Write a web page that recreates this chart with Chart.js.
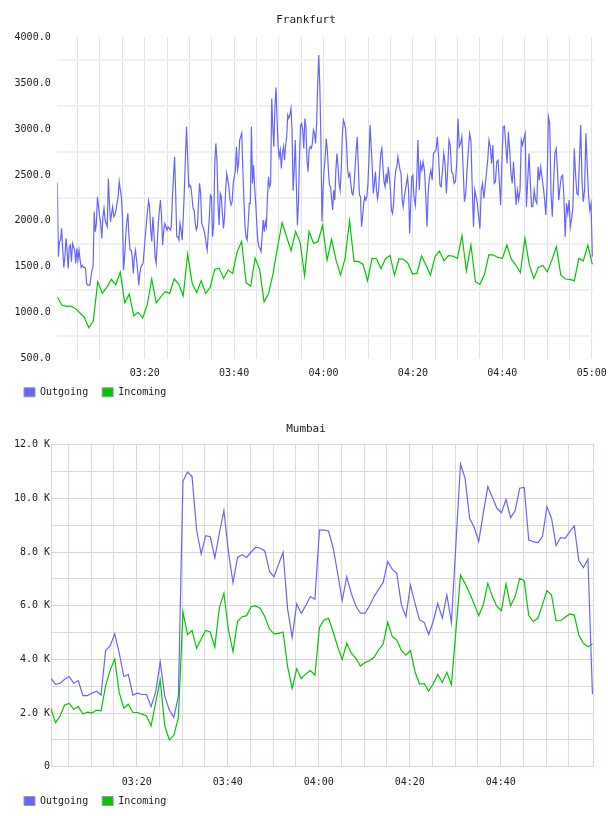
<!DOCTYPE html>
<html><head><meta charset="utf-8">
<script src="https://cdn.jsdelivr.net/npm/chart.js@4/dist/chart.umd.min.js"></script>
<style>
html,body{margin:0;padding:0;background:#fff;}
#w1{position:absolute;left:0;top:0;width:608px;height:410px;}
#w2{position:absolute;left:0;top:410px;width:608px;height:406px;}
canvas{display:block;}
</style></head><body>
<div id="w1"><canvas id="c1" width="608" height="410" style="width:608px;height:410px"></canvas></div>
<div id="w2"><canvas id="c2" width="608" height="406" style="width:608px;height:406px"></canvas></div>
<script>
// ---------- shared ----------
const seriesNames = ['Outgoing', 'Incoming'];
const seriesColors = ['#6666ff', '#00c800'];

// ---------- Frankfurt ----------
const frankfurtTitle = 'Frankfurt';
const frankfurtRange = ['03:00:27', '05:00:21'];
const frankfurtTimeTicks = ['03:05','03:10','03:15','03:20','03:25','03:30','03:35','03:40','03:45','03:50','03:55','04:00',
  '04:05','04:10','04:15','04:20','04:25','04:30','04:35','04:40','04:45','04:50','04:55','05:00'];
const frankfurtTimeLabels = ['03:20','03:40','04:00','04:20','04:40','05:00'];
const frankfurtValueTicks = [500,750,1000,1250,1500,1750,2000,2250,2500,2750,3000,3250,3500,3750,4000];
const frankfurtValueLabels = [500,1000,1500,2000,2500,3000,3500,4000];

// Outgoing, sampled densely, in three consecutive stretches of time
const frankfurtOutgoingSpans = [['03:00:27','03:40:03'], ['03:40:17','04:20:28'], ['04:20:33','05:00:08']];
const frankfurtOutgoingA = [2415,1610,1773,1791,1918,1682,1494,1610,1809,1682,1483,1719,1737,1555,1755,1719,1682,1537,1700,1573,
  1682,1573,1494,1515,1494,1494,1483,1320,1301,1301,1301,1392,1465,1508,2099,1882,1972,2263,2154,2045,1972,1809,2045,2136,2009,
  1972,1936,2462,2190,1991,2081,2154,2045,2063,2118,2190,2263,2426,2335,2263,2045,1465,1610,1827,1991,2081,1827,1682,1682,1610,
  1428,1610,1682,1573,1465,1301,1428,1501,1519,1537,1682,1827,1972,2099,2219,2154,1900,1776,2045,1864,1610,1537,1755,1972,2118,
  2226,2045,1737,1900,1972,1936,1900,1936,1918,1900,1936,2263,2480,2698,2299,1827,1827,1791,1972,1900,1791,2045,2335,2698,3024,
  2698,2371,2389,2371,2263,2136,2118,1972,1900,1936,2190,2408,2299,1972,1936,1900,1846,1755,1682,1864,2045,2281,2263,1827,1972,
  2625,2843,2661,2190,1954,2299,2263,2081,1918,2045,2335,2516,2444,2371,2226,2172,2208,2408,2480];
const frankfurtOutgoingB = [2553,2807,2553,2625,2879,2915,2952,2553,2226,1936,1827,1791,1972,2190,2190,3024,2408,2607,2371,2190,
  1972,1791,1719,1700,1664,1827,2009,1882,1991,1936,2263,2480,2371,2408,3332,3024,2807,3242,3452,3097,2807,2698,2770,2571,2734,
  2807,2661,2825,2915,3151,3115,3151,3224,2988,2328,2553,2879,2408,1954,2190,2698,3042,3060,2988,2788,3115,3024,2661,2535,2770,
  2807,2788,2843,2988,2952,2843,3060,3496,3804,3459,2879,1991,2335,2553,2698,2897,2770,2553,2389,2371,2244,2118,2335,2226,2553,
  2734,2589,2408,2335,2553,2915,3097,3060,3006,2843,2553,2480,2516,2408,2299,2281,2389,2589,2770,2915,2589,2281,2263,1936,2045,
  2190,2263,2226,2263,2408,2698,3042,2807,2589,2299,2408,2535,2335,2244,2335,2553,2734,2788,2589,2426,2371,2516,2408,2589,2480,
  2335,2118,2081,2190,2426,2553,2589,2698,2625,2553,2516,2226,2154,2263,2335,2408,2480,2335,1864,2190,2480,2498,2263,2190];
const frankfurtOutgoingC = [2172,2444,2879,2335,2625,2553,2643,2553,2299,1936,2335,2480,2553,2444,2734,2752,2770,2915,2698,2389,
  2371,2553,2734,2625,2299,2553,2879,2825,2535,2516,2408,2426,2625,3115,2807,2843,2915,2553,2208,2299,2553,2770,2952,2879,2371,
  1936,2335,2263,2190,2045,1918,2335,2408,2244,2371,2516,2661,2879,2807,2625,2825,2408,2426,2643,2661,2426,2172,2661,3024,3031,
  2825,2625,2970,2770,2516,2408,2643,2408,2172,2335,2226,2335,2879,2825,2897,2952,2154,2444,2734,2408,2154,2154,2335,2226,2190,
  2589,2444,2589,2480,2371,2244,2063,2408,3133,3060,2299,2045,2408,2734,2788,2553,2226,2371,2480,2498,2263,1827,2190,2081,2226,
  1936,2027,2154,2788,2516,2299,2281,2643,3042,2444,2208,2335,2952,2625,2299,2118,2190,1610];

// Incoming, one value per minute
const frankfurtIncomingSpan = ['03:00:27', '05:00:08'];
const frankfurtIncoming = [1174,1084,1069,1073,1047,1000,950,837,906,1338,1211,1276,1363,1305,1443,1109,1203,968,1004,942,
  1087,1367,1109,1174,1229,1211,1370,1312,1182,1639,1320,1218,1349,1211,1276,1472,1486,1374,1465,1428,
  1664,1776,1327,1290,1595,1472,1116,1211,1428,1718,1980,1827,1675,1885,1769,1403,1885,1755,1776,1951,
  1573,1798,1573,1410,1592,2001,1559,1559,1526,1349,1592,1588,1479,1588,1624,1410,1588,1581,1537,1421,
  1428,1617,1519,1410,1610,1671,1566,1621,1617,1592,1838,1457,1737,1338,1309,1417,1632,1628,1602,1592,
  1737,1581,1519,1436,1809,1519,1374,1494,1515,1446,1573,1718,1410,1367,1363,1349,1592,1566,1737,1526];

// ---------- Mumbai (values in thousands) ----------
const mumbaiTitle = 'Mumbai';
const mumbaiRange = ['03:01:10', '05:00:21'];
const mumbaiTimeTicks = ['03:05','03:10','03:15','03:20','03:25','03:30','03:35','03:40','03:45','03:50','03:55','04:00',
  '04:05','04:10','04:15','04:20','04:25','04:30','04:35','04:40','04:45','04:50','04:55'];
const mumbaiTimeLabels = ['03:20','03:40','04:00','04:20','04:40'];
const mumbaiValueTicks = [0,1,2,3,4,5,6,7,8,9,10,11,12];
const mumbaiValueLabels = [0,2,4,6,8,10,12];
const mumbaiSpan = ['03:01:10', '05:00:10'];
const mumbaiOutgoing = [3.29,3.07,3.11,3.26,3.36,3.11,3.21,2.65,2.65,2.74,2.81,2.67,4.33,4.51,4.95,4.23,3.36,3.43,2.67,2.74,
  2.69,2.69,2.24,2.78,3.90,2.63,2.11,1.84,2.63,10.64,10.98,10.81,8.82,7.93,8.61,8.57,7.78,8.70,9.54,8.00,
  6.86,7.80,7.90,7.80,8.01,8.18,8.14,8.04,7.29,7.07,7.54,7.99,5.88,4.82,6.06,5.72,6.01,6.34,6.24,8.82,
  8.82,8.78,8.16,7.21,6.19,7.08,6.46,5.99,5.72,5.72,5.99,6.34,6.61,6.86,7.64,7.36,7.21,6.03,5.59,6.77,
  6.09,5.47,5.38,4.93,5.41,6.09,5.53,6.40,5.37,8.33,11.28,10.75,9.26,8.92,8.39,9.44,10.44,10.04,9.63,9.47,
  9.96,9.28,9.54,10.38,10.41,8.45,8.39,8.35,8.57,9.69,9.26,8.24,8.54,8.51,8.76,8.97,7.68,7.42,7.73,2.70];
const mumbaiIncoming = [2.16,1.64,1.89,2.30,2.36,2.14,2.24,1.96,2.03,2.00,2.11,2.08,3.01,3.60,4.01,2.76,2.18,2.33,2.02,2.02,
  1.96,1.89,1.52,2.39,3.23,1.52,1.00,1.17,1.83,5.77,4.92,5.07,4.41,4.76,5.08,5.02,4.46,5.93,6.46,5.10,
  4.29,5.41,5.59,5.63,5.97,5.99,5.90,5.59,5.14,4.95,4.97,5.02,3.73,2.92,3.65,3.28,3.46,3.58,3.41,5.19,
  5.47,5.53,5.03,4.47,4.00,4.60,4.23,4.04,3.75,3.88,3.95,4.08,4.35,4.57,5.39,4.85,4.72,4.33,4.16,4.33,
  3.54,3.08,3.10,2.82,3.08,3.44,3.14,3.52,3.05,5.09,7.14,6.83,6.46,6.06,5.63,6.03,6.83,6.34,5.97,5.82,
  6.81,6.00,6.34,7.02,6.93,5.63,5.41,5.53,6.03,6.56,6.40,5.44,5.44,5.57,5.69,5.65,4.91,4.60,4.47,4.57];

// ---------- helpers ----------
const FONT = "'DejaVu Sans Mono', monospace";
const TEXT = '#222222';
const CLEAR = 'rgba(0,0,0,0)';
function toMin(s) { const p = s.split(':').map(Number); return p[0] * 60 + p[1] + (p[2] || 0) / 60; }
function hhmm(m) {
  const t = Math.round(m * 60);
  const h = Math.floor(t / 3600), mm = Math.floor((t % 3600) / 60);
  return String(h).padStart(2, '0') + ':' + String(mm).padStart(2, '0');
}
function spread(values, span) {
  const a = toMin(span[0]), b = toMin(span[1]), n = values.length;
  return values.map((v, i) => ({ x: a + (b - a) * i / (n - 1), y: v }));
}
function lineSet(label, data, color) {
  return { label, data, borderColor: color, backgroundColor: color, borderWidth: 1.2,
    pointRadius: 0, pointHoverRadius: 0, fill: false, tension: 0 };
}
function legendOpts() {
  return {
    position: 'bottom', align: 'start',
    labels: {
      boxWidth: 11, boxHeight: 9, padding: 14, color: TEXT, font: { family: FONT, size: 10 },
      generateLabels: chart => chart.data.datasets.map((d, i) => ({
        text: d.label, fillStyle: d.borderColor, strokeStyle: '#9a9a9a', lineWidth: 1,
        hidden: false, datasetIndex: i, fontColor: TEXT }))
    }
  };
}
// let the time labels overhang the (short) axis box instead of being clipped
function unclipLabels(s) { s._computeLabelArea = () => undefined; }
Chart.defaults.font.family = FONT;
Chart.defaults.font.size = 10;
Chart.defaults.color = TEXT;

// ---------- Frankfurt chart ----------
const fLabelSet = new Set(frankfurtTimeLabels);
const fOutgoing = [].concat(
  spread(frankfurtOutgoingA, frankfurtOutgoingSpans[0]),
  spread(frankfurtOutgoingB, frankfurtOutgoingSpans[1]),
  spread(frankfurtOutgoingC, frankfurtOutgoingSpans[2]));
new Chart(document.getElementById('c1'), {
  type: 'line',
  data: { datasets: [
    lineSet(seriesNames[0], fOutgoing, seriesColors[0]),
    lineSet(seriesNames[1], spread(frankfurtIncoming, frankfurtIncomingSpan), seriesColors[1])
  ]},
  options: {
    responsive: false, animation: false, events: [],
    layout: { padding: { left: 10, right: 6, top: 0, bottom: 2.7 } },
    plugins: {
      title: { display: true, text: frankfurtTitle, color: TEXT,
        font: { family: FONT, size: 11, weight: 'normal' }, padding: { top: 14, bottom: 9.9 } },
      legend: legendOpts(),
      tooltip: { enabled: false }
    },
    scales: {
      x: {
        type: 'linear', min: toMin(frankfurtRange[0]), max: toMin(frankfurtRange[1]),
        afterBuildTicks: s => { s.ticks = frankfurtTimeTicks.map(t => ({ value: toMin(t) })); },
        afterFit: s => { s.height = 14.6; s.paddingLeft = 0; s.paddingRight = 14.7; unclipLabels(s); },
        ticks: { autoSkip: false, maxRotation: 0, minRotation: 0, padding: 8.6, color: TEXT,
          callback: v => fLabelSet.has(hhmm(v)) ? hhmm(v) : '' },
        grid: { color: '#e4e4e4', lineWidth: 1, drawTicks: false },
        border: { display: false }
      },
      y: {
        type: 'linear', min: 500, max: 4000,
        afterBuildTicks: s => { s.ticks = frankfurtValueTicks.map(v => ({ value: v })); },
        afterFit: s => { s.width = 47.3; },
        ticks: { autoSkip: false, padding: 6.6, color: TEXT,
          callback: v => frankfurtValueLabels.includes(v) ? v.toFixed(1) : '' },
        grid: { drawTicks: false, lineWidth: 2,
          color: c => (c.tick && !frankfurtValueLabels.includes(c.tick.value)) ? '#f0f0f0' : CLEAR },
        border: { display: false }
      }
    }
  }
});

// ---------- Mumbai chart ----------
const PINK = '#e4cfe4';
const GREY = '#dcdcdc';
const mLabelSet = new Set(mumbaiTimeLabels);
new Chart(document.getElementById('c2'), {
  type: 'line',
  data: { datasets: [
    lineSet(seriesNames[0], spread(mumbaiOutgoing, mumbaiSpan), seriesColors[0]),
    lineSet(seriesNames[1], spread(mumbaiIncoming, mumbaiSpan), seriesColors[1])
  ]},
  options: {
    responsive: false, animation: false, events: [],
    layout: { padding: { left: 10, right: 6, top: 0, bottom: 0 } },
    plugins: {
      title: { display: true, text: mumbaiTitle, color: TEXT,
        font: { family: FONT, size: 11, weight: 'normal' }, padding: { top: 12.4, bottom: 9.1 } },
      legend: legendOpts(),
      tooltip: { enabled: false }
    },
    scales: {
      x: {
        type: 'linear', min: toMin(mumbaiRange[0]), max: toMin(mumbaiRange[1]),
        afterBuildTicks: s => { s.ticks = mumbaiTimeTicks.map(t => ({ value: toMin(t) })); },
        afterFit: s => { s.height = 15.3; s.paddingLeft = 0; s.paddingRight = 0; unclipLabels(s); },
        ticks: { autoSkip: false, maxRotation: 0, minRotation: 0, padding: 9.3, color: TEXT,
          callback: v => mLabelSet.has(hhmm(v)) ? hhmm(v) : '' },
        grid: { drawTicks: false, lineWidth: 1,
          color: c => (c.tick && mLabelSet.has(hhmm(c.tick.value))) ? PINK : GREY },
        border: { display: true, color: PINK, width: 1 }
      },
      y: {
        type: 'linear', min: 0, max: 12,
        afterBuildTicks: s => { s.ticks = mumbaiValueTicks.map(v => ({ value: v })); },
        afterFit: s => { s.width = 41; },
        ticks: { autoSkip: false, padding: 1, color: TEXT,
          callback: v => mumbaiValueLabels.includes(v) ? (v === 0 ? '0' : v.toFixed(1) + ' K') : '' },
        grid: { drawTicks: false, lineWidth: 1,
          color: c => (c.tick && mumbaiValueLabels.includes(c.tick.value)) ? PINK : GREY },
        border: { display: true, color: PINK, width: 1 }
      },
      yRight: {
        type: 'linear', position: 'right', min: 0, max: 12,
        afterFit: s => { s.width = 8.7; },
        ticks: { display: false },
        grid: { drawTicks: false, color: CLEAR },
        border: { display: true, color: PINK, width: 1 }
      }
    }
  }
});
</script>
</body></html>
